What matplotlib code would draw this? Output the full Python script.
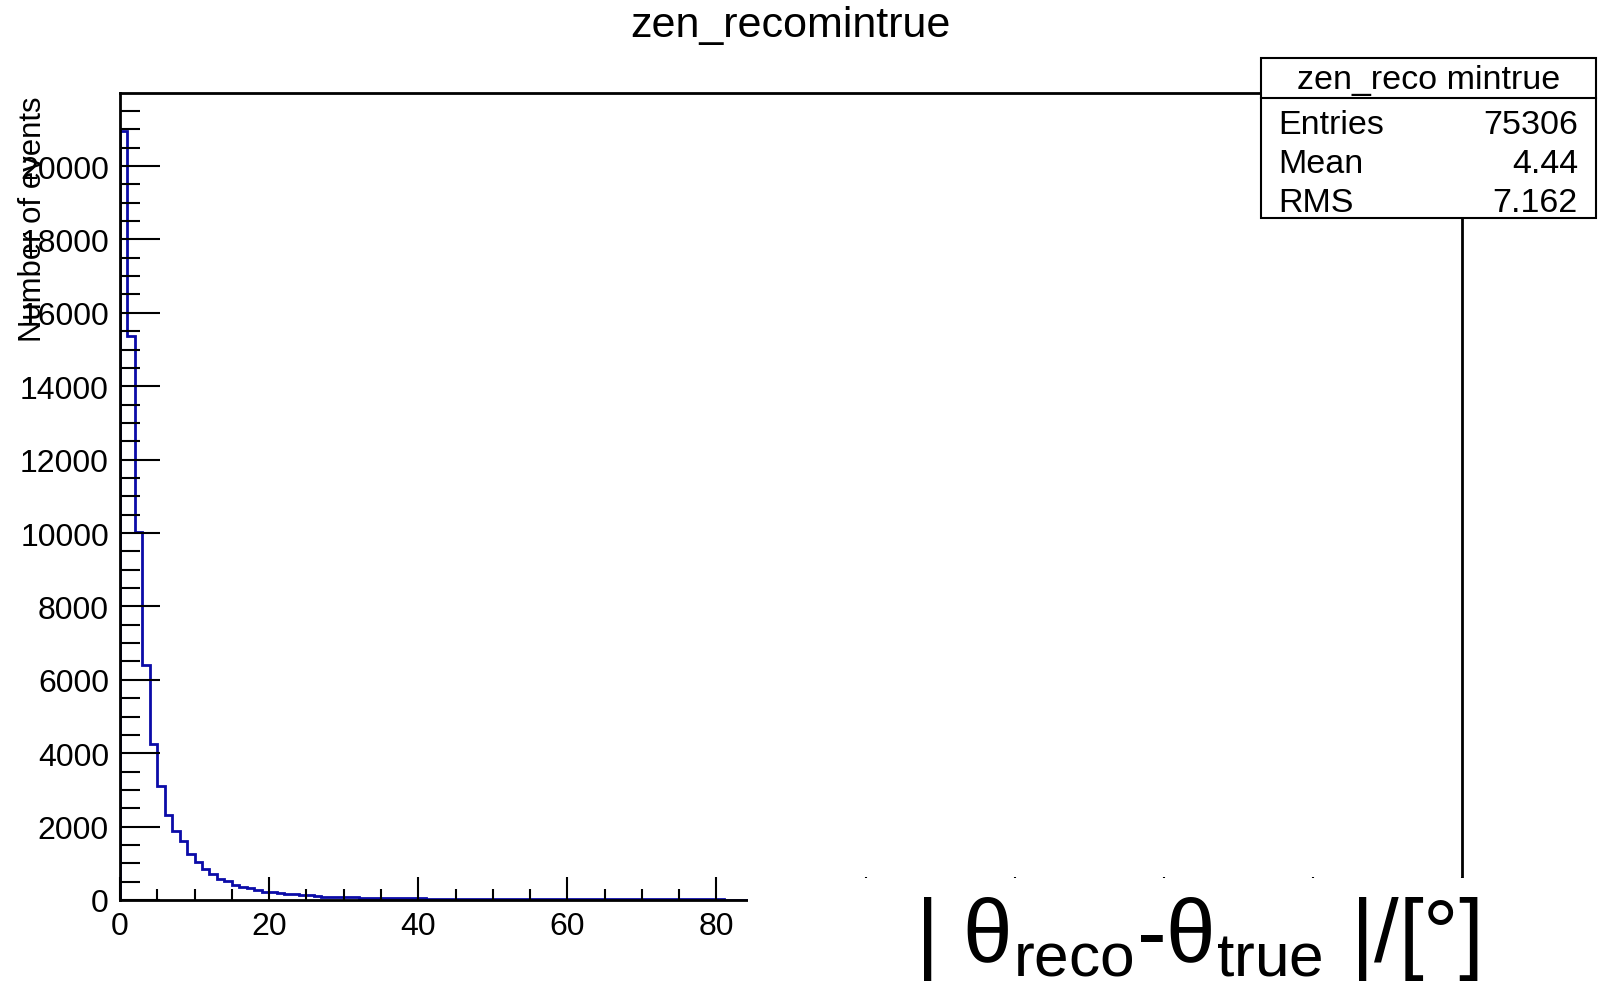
import numpy as np
import matplotlib
matplotlib.use("Agg")
import matplotlib.pyplot as plt
from matplotlib import font_manager
from matplotlib.patches import Rectangle
from matplotlib.ticker import MultipleLocator, FuncFormatter

# histogram contents, 1 degree bins from 0 to 180
counts_0_20 = [20945, 15376, 10035, 6411, 4250, 3114, 2325, 1889, 1599, 1253,
               1027, 845, 708, 572, 509, 409, 363, 318, 281, 226]
counts_20_40 = [205, 195, 170, 160, 140, 130, 105, 95, 85, 82,
                80, 75, 60, 55, 50, 48, 55, 60, 58, 50]
counts_40_60 = [42, 40, 38, 36, 35, 34, 32, 31, 30, 29,
                28, 27, 26, 26, 25, 24, 24, 23, 23, 22]
counts_60_90 = [22, 21, 21, 20, 20, 19, 19, 18, 18, 18,
                17, 17, 16, 16, 16, 15, 15, 15, 14, 14,
                14, 13, 13, 13, 12, 12, 12, 11, 11, 11]
counts_90_180 = [0] * 90
counts = np.array(counts_0_20 + counts_20_40 + counts_40_60 + counts_60_90 + counts_90_180)
x_min, x_max = 0, 180
bin_edges = np.linspace(x_min, x_max, len(counts) + 1)
y_max = 21990

title = "zen_recomintrue"
stats_name = "zen_reco mintrue"
stats_rows = [("Entries", "75306"), ("Mean", "4.44"), ("RMS", "7.162")]

names = {f.name for f in font_manager.fontManager.ttflist}
big_font = "Liberation Sans Narrow" if "Liberation Sans Narrow" in names else "Liberation Sans"
plt.rcParams["font.family"] = ["Liberation Sans", "DejaVu Sans"]
plt.rcParams["mathtext.fontset"] = "custom"
plt.rcParams["mathtext.rm"] = big_font

W, H = 1599, 995
fig = plt.figure(figsize=(W / 100, H / 100), dpi=100)
ax = fig.add_axes([120 / W, 1 - 901 / H, (1462 - 120) / W, (901 - 94) / H])

ax.stairs(counts, bin_edges, color="#0b0ba8", linewidth=2.0)
ax.set_xlim(x_min, x_max)
ax.set_ylim(0, y_max)

ax.xaxis.set_major_locator(MultipleLocator(20))
ax.xaxis.set_minor_locator(MultipleLocator(5))
# labels beyond 80 sit under the white pave of the axis title
ax.xaxis.set_major_formatter(FuncFormatter(lambda v, p: f"{v:.0f}" if v <= 80 else ""))
ax.yaxis.set_major_locator(MultipleLocator(2000))
ax.yaxis.set_minor_locator(MultipleLocator(500))
ax.tick_params(axis="x", which="major", direction="in", length=16.5, width=1.5,
               labelsize=23, pad=8)
ax.tick_params(axis="x", which="minor", direction="in", length=8, width=1.5)
ax.tick_params(axis="y", which="major", direction="in", length=28.5, width=1.5,
               labelsize=23, pad=8)
ax.tick_params(axis="y", which="minor", direction="in", length=14.5, width=1.5)
for s in ax.spines.values():
    s.set_linewidth(2.0)

fig.text(790 / W, 1 - 26 / H, title, fontsize=31, ha="center", va="center")
fig.text(33 / W, 1 - 97 / H, "Number of events", fontsize=22.4,
         rotation=90, ha="center", va="top")

# white pave hiding the right part of the x axis, then the big label
fig.add_artist(Rectangle((748 / W, 0), 1 - 748 / W, (H - 879) / H,
                         transform=fig.transFigure, facecolor="white",
                         edgecolor="none", zorder=4))
fig.text(1479 / W, 1 - 962 / H,
         r"| $\mathrm{\theta_{reco}}$-$\mathrm{\theta_{true}}$ |/[°]",
         fontsize=64, family=big_font, ha="right", va="baseline", zorder=6)

# stats box
bx0, by0, bx1, by1 = 1261, 59, 1596, 219
fig.add_artist(Rectangle((bx0 / W, 1 - by1 / H), (bx1 - bx0) / W, (by1 - by0) / H,
                         transform=fig.transFigure, facecolor="white",
                         edgecolor="black", linewidth=1.5, zorder=5))
fig.add_artist(plt.Line2D([bx0 / W, bx1 / W], [1 - 99 / H, 1 - 99 / H],
                          transform=fig.transFigure, color="black",
                          linewidth=1.5, zorder=6))
fig.text((bx0 + bx1) / 2 / W, 1 - 80 / H, stats_name, fontsize=24.5,
         ha="center", va="center", zorder=7)
for i, (k, v) in enumerate(stats_rows):
    yc = 1 - (126 + 39 * i) / H
    fig.text(1278 / W, yc, k, fontsize=24.5, ha="left", va="center", zorder=7)
    fig.text(1578 / W, yc, v, fontsize=24.5, ha="right", va="center", zorder=7)

fig.savefig("out.png", dpi=100)
